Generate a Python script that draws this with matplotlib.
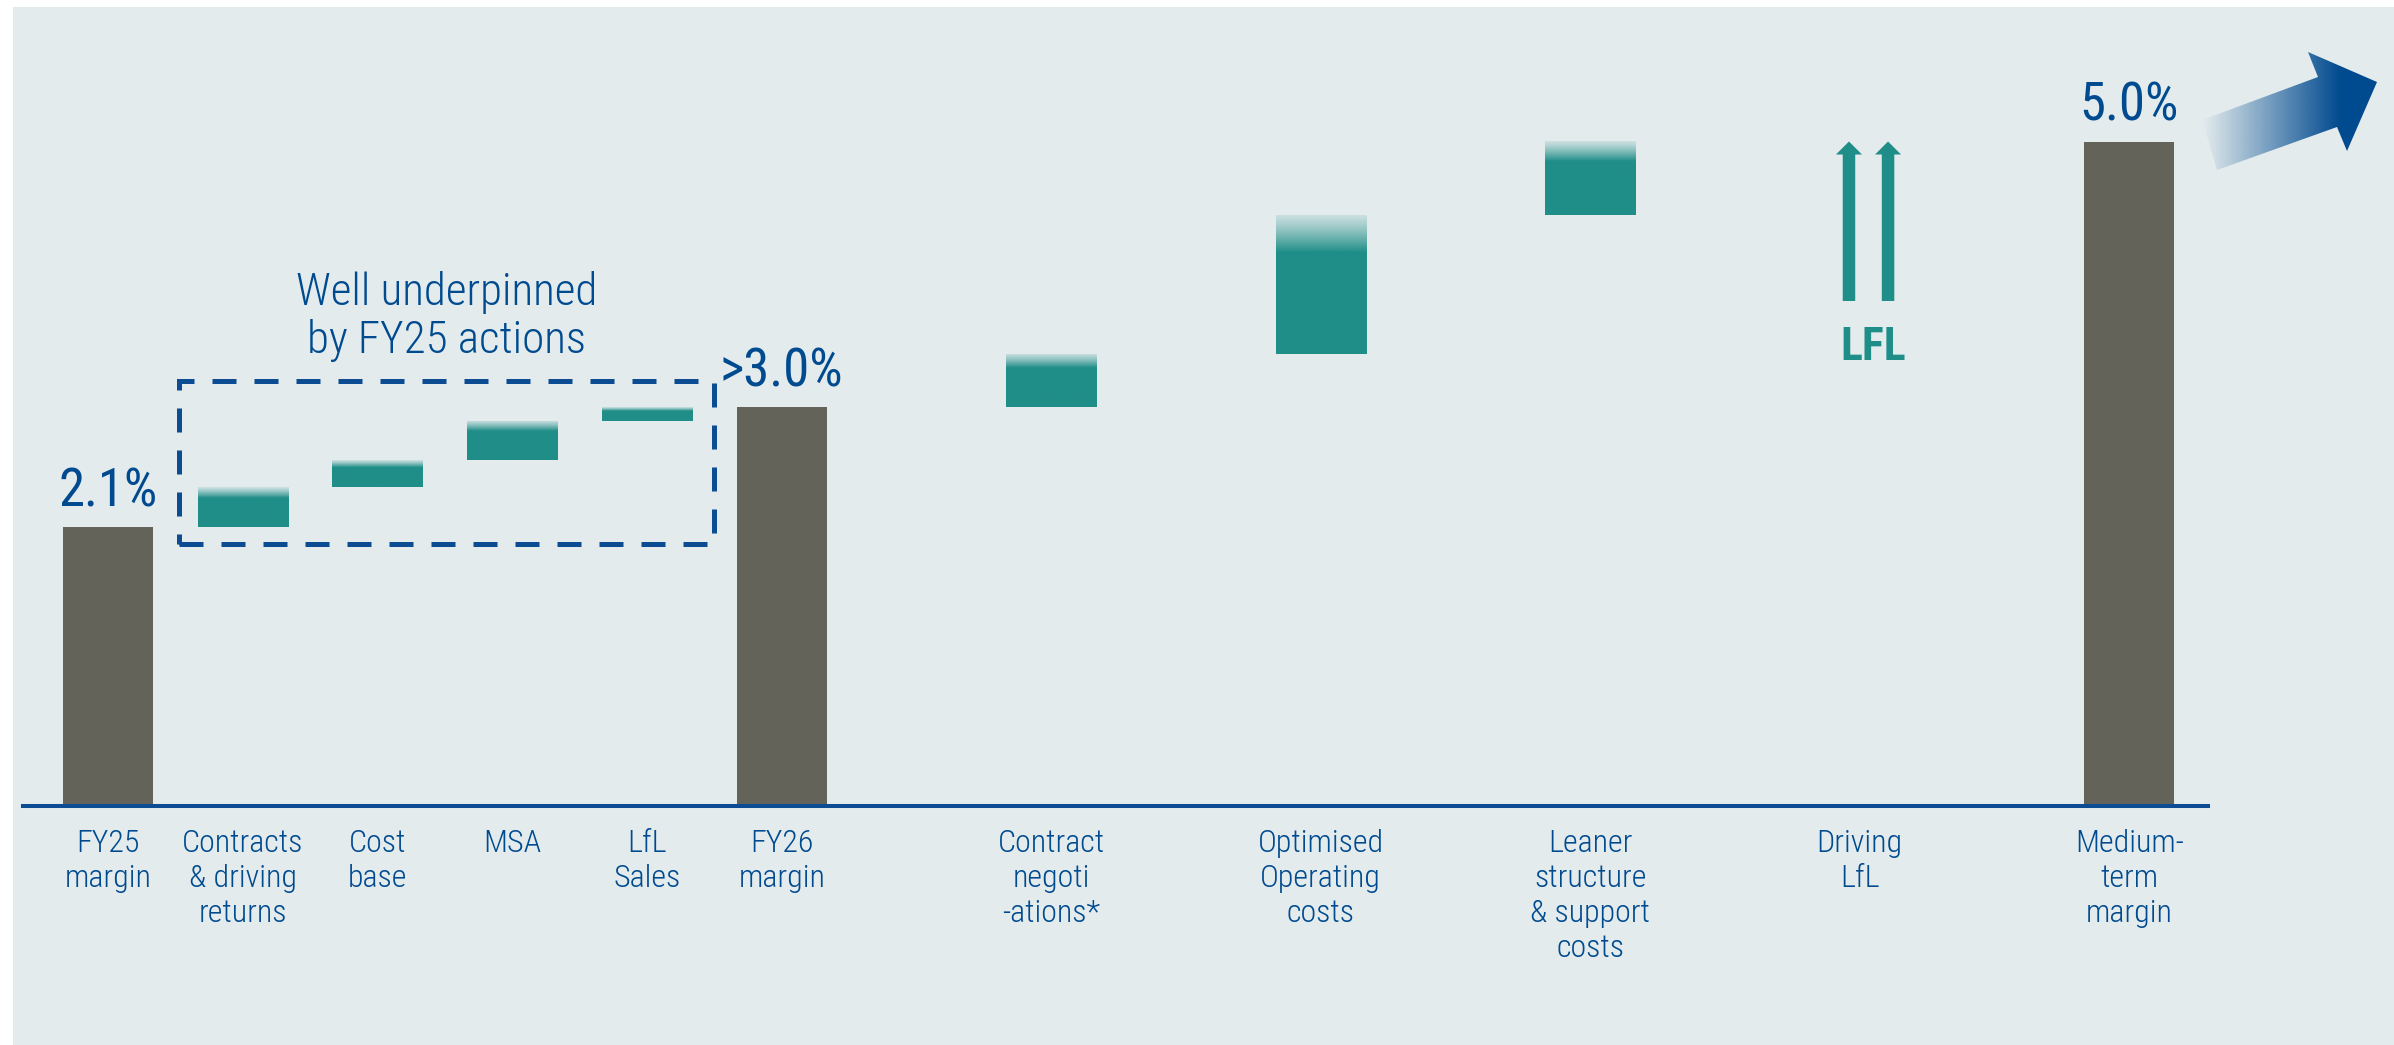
import numpy as np
import matplotlib
matplotlib.use("Agg")
import matplotlib.pyplot as plt
from matplotlib import font_manager
from matplotlib.patches import Rectangle, Polygon, FancyArrow
from matplotlib.colors import to_rgb

# ---------------------------------------------------------------- data
categories = ["FY25\nmargin", "Contracts\n& driving\nreturns", "Cost\nbase", "MSA",
              "LfL\nSales", "FY26\nmargin", "Contract\nnegoti\n-ations*",
              "Optimised\nOperating\ncosts", "Leaner\nstructure\n& support\ncosts",
              "Driving\nLfL", "Medium-\nterm\nmargin"]
kinds = ["total", "step", "step", "step", "step", "total",
         "step", "step", "step", "lfl", "total"]
# margin levels (%) for totals, margin uplift (pp) for steps
values = [2.1, 0.3, 0.2, 0.3, 0.1, 3.0, 0.4, 1.05, 0.55, None, 5.0]
value_labels = {0: "2.1%", 5: ">3.0%", 10: "5.0%"}
box_title = "Well underpinned\nby FY25 actions"
lfl_label = "LFL"

# ---------------------------------------------------------------- style
W, H = 2394, 1045
BG = "#e3ebed"
GREY = "#636359"
TEAL = "#208e88"
BLUE = "#004a8f"
slots = [0, 1, 2, 3, 4, 5, 7, 9, 11, 13, 15]
bar_w = 0.67

names = {f.name for f in font_manager.fontManager.ttflist}
FONT = "Roboto"
for cand in ("Liberation Sans Narrow", "Roboto Condensed", "Open Sans Condensed",
             "Noto Sans Condensed"):
    if cand in names:
        FONT = cand
        break
plt.rcParams["font.family"] = [FONT, "DejaVu Sans"]

fig = plt.figure(figsize=(W / 100, H / 100), dpi=100)
fig.patch.set_facecolor("white")

# full-figure pixel canvas for the panel and the growth arrow
deco = fig.add_axes([0, 0, 1, 1], zorder=0)
deco.set_xlim(0, W)
deco.set_ylim(H, 0)
deco.axis("off")
deco.add_patch(Rectangle((13, 7), W - 13, H - 7, color=BG, lw=0))

# chart axes: baseline at y=806 px, 132.9 px per percentage point
base_px, top_px = 806, 7
ppu = 132.9
x0_px, x1_px, step_px, first_px = 23, 2208, 134.75, 108
ax = fig.add_axes([x0_px / W, (H - base_px) / H, (x1_px - x0_px) / W,
                   (base_px - top_px) / H], zorder=1)
ax.axis("off")

# ---------------------------------------------------------------- bars
level = 0.0
totals_x, totals_h = [], []
steps_x, steps_b, steps_h = [], [], []
for s, k, v in zip(slots, kinds, values):
    if k == "total":
        level = v
        totals_x.append(s)
        totals_h.append(v)
    elif k == "step":
        steps_x.append(s)
        steps_b.append(level)
        steps_h.append(v)
        level += v

ax.bar(totals_x, totals_h, width=bar_w, color=GREY, lw=0, zorder=2)

# uplift bars: solid teal fading out towards the top edge
n = 200
t = np.linspace(0, 1, n)
fade = 0.27
alpha = np.clip((1 - t) / fade, 0, 1)
alpha = 0.12 + 0.88 * alpha ** 1.2
grad = np.zeros((n, 1, 4))
grad[:, 0, :3] = to_rgb(TEAL)
grad[:, 0, 3] = alpha
step_bars = ax.bar(steps_x, steps_h, bottom=steps_b, width=bar_w,
                   color="none", lw=0, zorder=2)
for r in step_bars:
    im = ax.imshow(grad, origin="lower", aspect="auto", interpolation="bilinear",
                   extent=[r.get_x(), r.get_x() + r.get_width(),
                           r.get_y(), r.get_y() + r.get_height()], zorder=2)
    im.set_clip_path(r)

# value labels over the totals
for i, lab in value_labels.items():
    ax.annotate(lab, (slots[i], values[i]), xytext=(0, 15), textcoords="offset points",
                ha="center", va="baseline", fontsize=38, color=BLUE)

# LfL driver: twin upward arrows
i_lfl = kinds.index("lfl")
xl = slots[i_lfl]
for dx in (-0.08, 0.21):
    ax.add_patch(FancyArrow(xl + dx, 3.80, 0, 5.0 - 3.80, width=12.5 / step_px,
                            head_width=26 / step_px, head_length=13 / ppu,
                            length_includes_head=True, color=TEAL, lw=0, zorder=3))
ax.text(xl + 0.1, 3.353, lfl_label, ha="center", va="baseline", fontsize=33,
        fontweight="bold", color=TEAL)

# dashed box around the FY26 building blocks
bx0, bx1 = 0.527, 4.497
by0, by1 = 1.97, 3.195
ax.add_patch(Rectangle((bx0, by0), bx1 - bx0, by1 - by0, fill=False, ec="#0b4c92",
                       lw=3.6, linestyle=(0, (4.8, 3.6)), zorder=3))
ax.text((bx0 + bx1) / 2, 3.41, box_title, ha="center", va="baseline", fontsize=32.5,
        fontweight=300, color=BLUE, linespacing=1.13)

# baseline
ax.axhline(0, color="#0b4c92", lw=2.9, zorder=4, clip_on=False)

# category labels
for s, c in zip(slots, categories):
    ax.annotate(c, (s, 0), xytext=(0, -16.5), textcoords="offset points",
                ha="center", va="top", fontsize=23, fontweight=300, color=BLUE,
                linespacing=1.26)

ax.set_xlim((x0_px - first_px) / step_px, (x1_px - first_px) / step_px)
ax.set_ylim(0, (base_px - top_px) / ppu)

# growth arrow beyond the medium-term bar
arrow_pts = [(2202, 120), (2318, 77), (2308, 52), (2377, 82),
             (2347, 151), (2337, 127), (2217, 170)]
poly = Polygon(arrow_pts, closed=True, fc="none", ec="none")
deco.add_patch(poly)
m = 300
xs = np.linspace(2195, 2380, m)
a = np.clip((xs - 2203) / (2340 - 2203), 0, 1)
agrad = np.zeros((1, m, 4))
agrad[0, :, :3] = to_rgb(BLUE)
agrad[0, :, 3] = a
im = deco.imshow(agrad, aspect="auto", interpolation="bilinear",
                 extent=[2195, 2380, 175, 45], zorder=2)
im.set_clip_path(poly)
deco.set_xlim(0, W)
deco.set_ylim(H, 0)

fig.savefig("out.png", dpi=100, facecolor=fig.get_facecolor())
